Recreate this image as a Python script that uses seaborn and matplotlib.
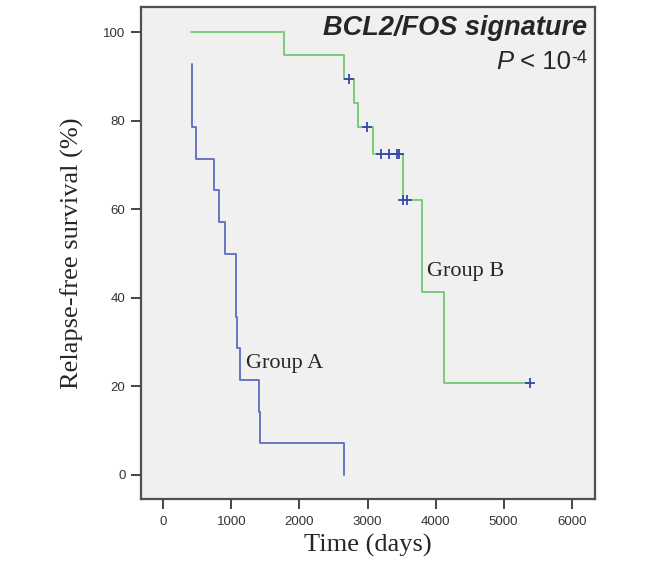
import pandas as pd
import matplotlib
matplotlib.use("Agg")
import matplotlib.pyplot as plt
import seaborn as sns

# Kaplan-Meier step curves (days, % relapse-free)
group_a_days = [417, 420, 425, 480, 745, 818, 911, 1068, 1072, 1076, 1127, 1410, 1420, 2650]
group_a_surv = [92.9, 85.7, 78.6, 71.4, 64.3, 57.1, 50.0, 42.9, 35.7, 28.6, 21.4, 14.3, 7.1, 0.0]

group_b_days = [407, 1773, 2660, 2803, 2862, 3076, 3517, 3800, 4124, 5387]
group_b_surv = [100.0, 94.9, 89.5, 84.0, 78.5, 72.4, 62.1, 41.4, 20.7, 20.7]

# censored observations (drawn as +)
censor_days = [2725, 2988, 3194, 3320, 3438, 3467, 3526, 3576, 5387]
censor_surv = [89.5, 78.5, 72.4, 72.4, 72.4, 72.4, 62.1, 62.1, 20.7]

x_ticks = [0, 1000, 2000, 3000, 4000, 5000, 6000]
y_ticks = [0, 20, 40, 60, 80, 100]


def build_frames():
    curves = pd.concat([
        pd.DataFrame({'days': group_a_days, 'surv': group_a_surv, 'group': 'Group A'}),
        pd.DataFrame({'days': group_b_days, 'surv': group_b_surv, 'group': 'Group B'}),
    ], ignore_index=True)
    censors = pd.DataFrame({'days': censor_days, 'surv': censor_surv})
    return curves, censors


def main():
    sns.set_style("white")
    plt.rcParams['font.family'] = ['Liberation Sans', 'DejaVu Sans']

    curves, censors = build_frames()

    fig = plt.figure(figsize=(6.69, 5.69), dpi=100)
    ax = fig.add_axes([0.2103, 0.1225, 0.6791, 0.8647])
    ax.set_facecolor('#f0f0f0')

    sns.lineplot(data=curves, x='days', y='surv', hue='group',
                 palette={'Group A': '#6675c0', 'Group B': '#7acb7a'},
                 drawstyle='steps-post', linewidth=1.4, legend=False,
                 estimator=None, sort=False, ax=ax)
    sns.scatterplot(data=censors, x='days', y='surv', marker='+', s=50,
                    color='#3548a8', linewidth=1.3, zorder=5, ax=ax)

    ax.set_xlim(-332, 6342)
    ax.set_ylim(-5.5, 105.6)
    ax.set_xticks(x_ticks)
    ax.set_yticks(y_ticks)
    ax.tick_params(axis='both', which='major', direction='out', length=7, width=1.4,
                   color='#444444', labelcolor='#333333', labelsize=9.5, pad=4,
                   bottom=True, left=True)
    ax.tick_params(axis='x', pad=5)
    for side in ax.spines.values():
        side.set_color('#505050')
        side.set_linewidth(1.6)

    ax.set_xlabel('Time (days)', family='Liberation Serif', fontsize=19, labelpad=4)
    ax.set_ylabel('Relapse-free survival (%)', family='Liberation Serif', fontsize=19, labelpad=14)

    ax.text(1210, 25.1, 'Group A', family='Liberation Serif', fontsize=16, va='center')
    ax.text(3870, 45.9, 'Group B', family='Liberation Serif', fontsize=16, va='center')

    ax.text(0.982, 0.958, 'BCL2/FOS signature', transform=ax.transAxes,
            ha='right', va='center', fontsize=19.5, fontweight='bold', fontstyle='italic')

    # "P < 10^-4": superscript placed first, the rest chained to its left
    sup = ax.text(0.982, 0.914, '-4', transform=ax.transAxes,
                  ha='right', va='top', fontsize=13)
    base = ax.annotate(' < 10', xy=(0, 1.0), xycoords=sup,
                       ha='right', va='top', fontsize=18.5, annotation_clip=False)
    ax.annotate('P', xy=(0, 1.0), xycoords=base, ha='right', va='top',
                fontsize=18.5, fontstyle='italic', annotation_clip=False)

    fig.savefig('out.png', dpi=100, facecolor='white')


if __name__ == "__main__":
    main()
